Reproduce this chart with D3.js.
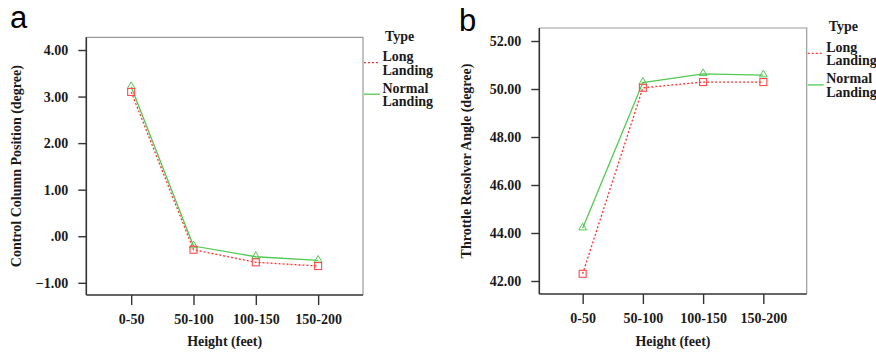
<!DOCTYPE html>
<html>
<head>
<meta charset="utf-8">
<script src="https://cdn.jsdelivr.net/npm/d3@7"></script>
<style>
  body { margin: 0; background: #fff; }
  svg { display: block; }
  text { font-family: "Liberation Serif", "Times New Roman", serif; font-weight: bold; fill: #1a1a1a; }
  .panelLabel { font-family: "Liberation Sans", Arial, sans-serif; font-weight: normal; fill: #000; }
</style>
</head>
<body>
<svg width="876" height="352"></svg>
<script>
// categories on x
var heights = ["0-50", "50-100", "100-150", "150-200"];
var seriesNames = ["Long Landing", "Normal Landing"];

// panel a - control column position
var longA = [3.10, -0.29, -0.56, -0.64];
var normalA = [3.21, -0.21, -0.44, -0.52];
var ticksA = [-1, 0, 1, 2, 3, 4];

// panel b - throttle resolver angle
var longB = [42.30, 50.05, 50.29, 50.29];
var normalB = [44.20, 50.27, 50.63, 50.58];
var ticksB = [42, 44, 46, 48, 50, 52];

var serif = '"Liberation Serif", "Times New Roman", serif';
var svg = d3.select('svg');

var fmt = function(v) {
    var s = d3.format(".2f")(v);
    if (s == "0.00") return ".00";
    return s;
};

var panels = [
  {label: 'a', labelX: 10, labelY: 28, box: {l: 86.3, r: 363, t: 37.3, b: 295},
   dom: [-1.262, 4.273], ticks: ticksA, long: longA, normal: normalA,
   ytitle: "Control Column Position (degree)", ytitleX: 21},
  {label: 'b', labelX: 459, labelY: 31, box: {l: 539.3, r: 806.7, t: 28, b: 294},
   dom: [41.458, 52.542], ticks: ticksB, long: longB, normal: normalB,
   ytitle: "Throttle Resolver Angle (degree)", ytitleX: 471}
];

panels.forEach(function(p) {
    var g = svg.append('g');
    var bx = p.box;

    var x = d3.scalePoint().domain(heights).range([bx.l, bx.r]).padding(0.72);
    var y = d3.scaleLinear().domain(p.dom).range([bx.b, bx.t]);

    // frame: top and right in grey
    g.append('path')
        .attr('d', `M${bx.l},${bx.t}H${bx.r}V${bx.b}`)
        .attr('fill', 'none')
        .attr('stroke', '#9a9a9a')
        .attr('stroke-width', 1.2);

    var yAxis = d3.axisLeft(y).tickValues(p.ticks).tickFormat(fmt).tickSize(8).tickPadding(10).tickSizeOuter(0);
    var xAxis = d3.axisBottom(x).tickSize(10).tickPadding(9).tickSizeOuter(0);

    var ga = g.append('g').attr('transform', `translate(${bx.l},0)`).call(yAxis);
    var gb = g.append('g').attr('transform', `translate(0,${bx.b})`).call(xAxis);
    [ga, gb].forEach(function(a) {
        a.attr('font-family', serif);
        a.select('.domain').attr('stroke', '#333').attr('stroke-width', 1.6);
        a.selectAll('.tick line').attr('stroke', '#333').attr('stroke-width', 1.4);
        a.selectAll('.tick text')
            .style('font-family', serif)
            .style('font-weight', 'bold')
            .style('font-size', '14px')
            .attr('fill', '#1a1a1a');
    });
    // extend x domain to box edges
    gb.select('.domain').attr('d', `M${bx.l},0H${bx.r}`);
    ga.select('.domain').attr('d', `M0,${bx.t}V${bx.b}`);

    // titles
    g.append('text')
        .attr('x', (bx.l + bx.r) / 2)
        .attr('y', 346)
        .attr('text-anchor', 'middle')
        .style('font-size', '14px')
        .text("Height (feet)");
    g.append('text')
        .attr('transform', `translate(${p.ytitleX},${(bx.t + bx.b) / 2}) rotate(-90)`)
        .attr('text-anchor', 'middle')
        .style('font-size', '14px')
        .text(p.ytitle);

    g.append('text')
        .attr('class', 'panelLabel')
        .attr('x', p.labelX)
        .attr('y', p.labelY)
        .style('font-size', '31px')
        .text(p.label);

    var line = d3.line()
        .x((d, i) => x(heights[i]))
        .y(d => y(d));

    // normal landing (green solid, triangles)
    g.append('path')
        .datum(p.normal)
        .attr('fill', 'none')
        .attr('stroke', '#52c952')
        .attr('stroke-width', 1.3)
        .attr('d', line);
    // long landing (red dotted, squares)
    g.append('path')
        .datum(p.long)
        .attr('fill', 'none')
        .attr('stroke', '#ff3030')
        .attr('stroke-width', 1.3)
        .attr('stroke-dasharray', '2,2')
        .attr('d', line);

    g.append('g').selectAll('path')
        .data(p.normal)
        .join('path')
        .attr('transform', (d, i) => `translate(${x(heights[i])},${y(d) - 0.5})`)
        .attr('d', d3.symbol(d3.symbolTriangle, 26))
        .attr('fill', 'none')
        .attr('stroke', '#52c952')
        .attr('stroke-width', 1);
    g.append('g').selectAll('rect')
        .data(p.long)
        .join('rect')
        .attr('x', (d, i) => x(heights[i]) - 3.5)
        .attr('y', d => y(d) - 3.5)
        .attr('width', 7)
        .attr('height', 7)
        .attr('fill', 'none')
        .attr('stroke', '#ff4a4a')
        .attr('stroke-width', 1.1);

    // legend
    var lg = g.append('g').attr('transform', `translate(${bx.r},${bx.t})`);
    lg.append('text').attr('x', 22).attr('y', 3.2).style('font-size', '14px').text("Type");
    var items = [
        {name: seriesNames[0], color: '#ff3030', dash: '2,2', ly: 25.4, words: ["Long", "Landing"]},
        {name: seriesNames[1], color: '#52c952', dash: null, ly: 56.9, words: ["Normal", "Landing"]}
    ];
    items.forEach(function(it) {
        lg.append('line')
            .attr('x1', 1).attr('x2', 17)
            .attr('y1', it.ly).attr('y2', it.ly)
            .attr('stroke', it.color)
            .attr('stroke-width', 1.3)
            .attr('stroke-dasharray', it.dash);
        // two-line label, one text with tspans
        var t = lg.append('text')
            .attr('x', 19.5)
            .attr('y', it.ly - 1.5)
            .style('font-size', '14px');
        it.words.forEach(function(w, k) {
            t.append('tspan')
                .attr('x', 19.5)
                .attr('dy', k == 0 ? 0 : 13.5)
                .text(w);
        });
    });
});
</script>
</body>
</html>
